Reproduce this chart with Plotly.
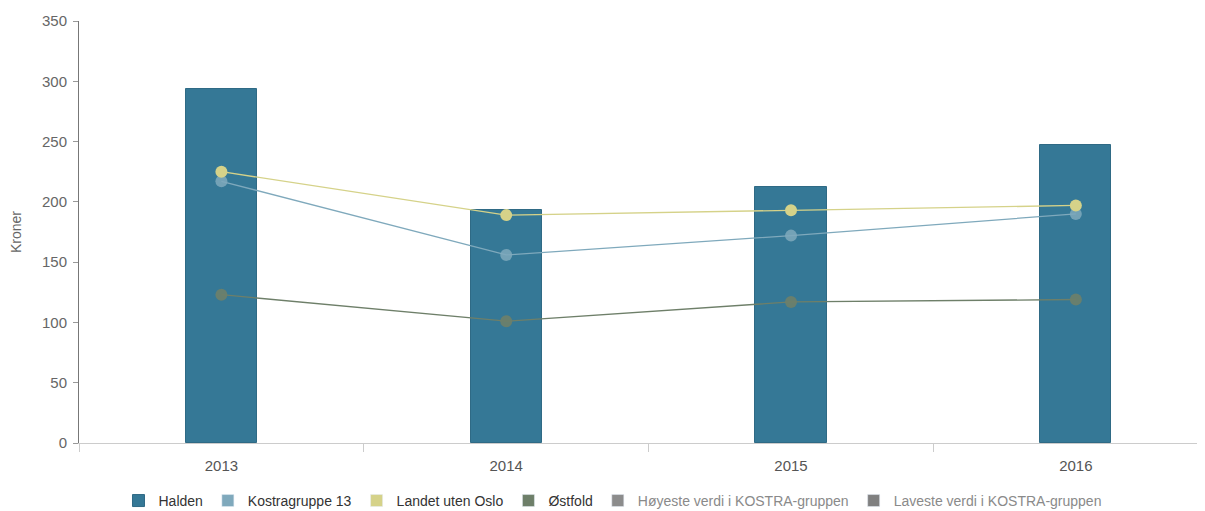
import plotly.graph_objects as go

years = ["2013", "2014", "2015", "2016"]
halden = [294, 193, 212, 247]
kostra13 = [217, 156, 172, 190]
landet = [225, 189, 193, 197]
ostfold = [123, 101, 117, 119]
y_ticks = [0, 50, 100, 150, 200, 250, 300, 350]

C_HALDEN = "#357896"
C_KOSTRA = "#7FA9BC"
C_LANDET = "#D5D289"
C_OSTF = "#6E7F69"
C_HOY = "#8C8C8C"
C_LAV = "#808080"

fig = go.Figure()
fig.add_trace(go.Bar(x=years, y=halden, name="Halden", marker=dict(color=C_HALDEN, line=dict(color="#2f6a85", width=1)),
                     width=0.25, showlegend=True))
line_specs = [(kostra13, C_KOSTRA, "Kostragruppe 13", 0.85),
              (landet, C_LANDET, "Landet uten Oslo", 1.0),
              (ostfold, C_OSTF, "Østfold", 0.9)]
for vals, col, nm, op in line_specs:
    fig.add_trace(go.Scatter(x=years, y=vals, mode="lines+markers", name=nm, showlegend=False,
                             line=dict(color=col, width=1.3),
                             marker=dict(color=col, size=12, opacity=op)))
legend_items = [("Kostragruppe 13", C_KOSTRA, "#333333"),
                ("Landet uten Oslo", C_LANDET, "#333333"),
                ("Østfold", C_OSTF, "#333333"),
                ("Høyeste verdi i KOSTRA-gruppen", C_HOY, "#8a8a8a"),
                ("Laveste verdi i KOSTRA-gruppen", C_LAV, "#8a8a8a")]
for nm, col, tc in legend_items:
    label = nm if tc == "#333333" else f"<span style='color:{tc}'>{nm}</span>"
    fig.add_trace(go.Bar(x=[None], y=[None], name=label, marker=dict(color=col), showlegend=True))

# page has an 8px body margin, so the figure is sized 8px smaller
fig.update_layout(
    width=1197, height=503,
    margin=dict(l=71, r=1, t=13, b=68),
    plot_bgcolor="white", paper_bgcolor="white",
    font=dict(family="Liberation Sans, Arial, sans-serif", size=15, color="#666666"),
    barmode="overlay",
    bargap=0,
    legend=dict(orientation="h", xref="container", yref="container", x=0.505, xanchor="center",
                y=0.02, yanchor="middle", font=dict(size=14, color="#333333"),
                itemwidth=30, tracegroupgap=0, traceorder="normal"),
    xaxis=dict(type="category", range=[-0.5, 3.45], showgrid=False, showline=True, linecolor="#cccccc",
               linewidth=1, ticks="outside", tickson="boundaries", ticklen=8, tickcolor="#cccccc",
               ticklabelstandoff=9,
               tickfont=dict(size=15, color="#555555"), zeroline=False),
    yaxis=dict(range=[0, 350], tickvals=y_ticks, showgrid=False, showline=True, linecolor="#777777",
               linewidth=1, ticks="outside", ticklen=5, tickcolor="#999999", zeroline=False,
               ticklabelstandoff=3,
               tickfont=dict(size=15, color="#666666"),
               title=dict(text="Kroner", font=dict(size=14, color="#666666"), standoff=18)),
)

fig.write_html("out.html")
